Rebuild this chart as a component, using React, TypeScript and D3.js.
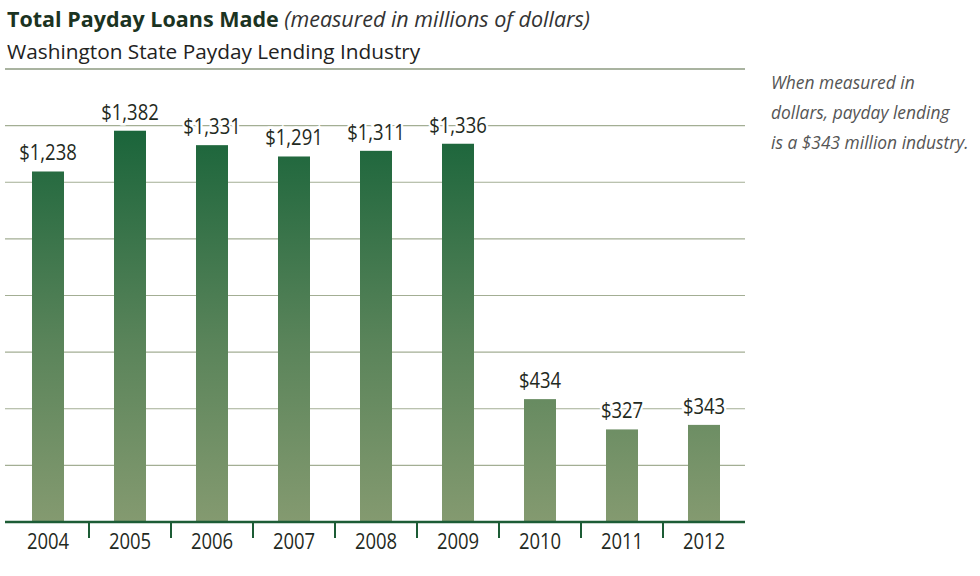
import React, { useEffect, useRef } from "react";
import * as d3 from "d3";

const years = ["2004", "2005", "2006", "2007", "2008", "2009", "2010", "2011", "2012"];
const loans = [1238, 1382, 1331, 1291, 1311, 1336, 434, 327, 343];
const gridTicks = [200, 400, 600, 800, 1000, 1200, 1400, 1600];
const noteLines = [
  "When measured in",
  "dollars, payday lending",
  "is a $343 million industry.",
];

const FONT = "'Open Sans', 'Liberation Sans', sans-serif";

const App: React.FC = () => {
  const ref = useRef<SVGSVGElement>(null);

  useEffect(() => {
    const svg = d3.select(ref.current);
    svg.selectAll("*").remove();

    const width = 980;
    const height = 576;
    const left = 7;
    const right = 745;
    const baseY = 522;
    const squeeze = 0.88; // condensed look

    svg.attr("width", width).attr("height", height);

    const x = d3.scaleBand().domain(years).range([left, right]).padding(0);
    const y = d3.scaleLinear().domain([0, 1600]).range([baseY, 69]);

    const defs = svg.append("defs");
    const grad = defs
      .append("linearGradient")
      .attr("id", "barGrad")
      .attr("gradientUnits", "userSpaceOnUse")
      .attr("x1", 0)
      .attr("x2", 0)
      .attr("y1", y(1400))
      .attr("y2", baseY);
    grad.append("stop").attr("offset", "0%").attr("stop-color", "#19643a");
    grad.append("stop").attr("offset", "55%").attr("stop-color", "#5a845a");
    grad.append("stop").attr("offset", "100%").attr("stop-color", "#849a70");

    // titles
    const title = svg
      .append("text")
      .attr("x", 7)
      .attr("y", 27)
      .attr("font-family", FONT)
      .attr("font-size", 21.5)
      .attr("fill", "#1b3322");
    title.append("tspan").attr("font-weight", "bold").text("Total Payday Loans Made ");
    title
      .append("tspan")
      .attr("font-style", "italic")
      .attr("fill", "#333")
      .text("(measured in millions of dollars)");

    svg
      .append("text")
      .attr("x", 7)
      .attr("y", 59)
      .attr("font-family", FONT)
      .attr("font-size", 20.8)
      .attr("fill", "#222")
      .text("Washington State Payday Lending Industry");

    // side note
    svg
      .append("g")
      .selectAll("text")
      .data(noteLines)
      .join("text")
      .attr("x", 771)
      .attr("y", (d, i) => 89 + i * 30)
      .attr("font-family", FONT)
      .attr("font-style", "italic")
      .attr("font-size", 17.4)
      .attr("fill", "#555")
      .text((d) => d);

    // gridlines
    svg
      .append("g")
      .selectAll("line")
      .data(gridTicks)
      .join("line")
      .attr("x1", 5)
      .attr("x2", right)
      .attr("y1", (d) => y(d))
      .attr("y2", (d) => y(d))
      .attr("stroke", (d) => (d === 1600 ? "#8c9a80" : "#a3ae94"))
      .attr("stroke-width", (d) => (d === 1600 ? 1.5 : 1.2));

    // bars
    const barW = 32;
    svg
      .append("g")
      .selectAll("rect")
      .data(loans)
      .join("rect")
      .attr("x", (d, i) => x(years[i])! + x.bandwidth() / 2 - barW / 2)
      .attr("y", (d) => y(d))
      .attr("width", barW)
      .attr("height", (d) => baseY - y(d))
      .attr("fill", "url(#barGrad)");

    // value labels
    svg
      .append("g")
      .selectAll("text")
      .data(loans)
      .join("text")
      .attr(
        "transform",
        (d, i) =>
          `translate(${x(years[i])! + x.bandwidth() / 2},${y(d) - 11}) scale(${squeeze},1)`
      )
      .attr("text-anchor", "middle")
      .attr("font-family", FONT)
      .attr("font-size", 21)
      .attr("fill", "#1f2a22")
      .attr("stroke", "white")
      .attr("stroke-width", 5)
      .attr("paint-order", "stroke")
      .text((d) => "$" + d3.format(",")(d));

    // baseline
    svg
      .append("line")
      .attr("x1", 5)
      .attr("x2", right)
      .attr("y1", baseY)
      .attr("y2", baseY)
      .attr("stroke", "#1c5c35")
      .attr("stroke-width", 2.5);

    // tick marks between categories
    svg
      .append("g")
      .selectAll("line")
      .data(years.slice(1))
      .join("line")
      .attr("x1", (d) => x(d)!)
      .attr("x2", (d) => x(d)!)
      .attr("y1", baseY)
      .attr("y2", baseY + 16)
      .attr("stroke", "#1c5c35")
      .attr("stroke-width", 2);

    // year labels
    svg
      .append("g")
      .selectAll("text")
      .data(years)
      .join("text")
      .attr(
        "transform",
        (d) => `translate(${x(d)! + x.bandwidth() / 2},549) scale(${squeeze},1)`
      )
      .attr("text-anchor", "middle")
      .attr("font-family", FONT)
      .attr("font-size", 21)
      .attr("fill", "#1f2a22")
      .text((d) => d);
  }, []);

  return (
    <svg
      ref={ref}
      style={{ position: "absolute", left: 0, top: 0, background: "white" }}
    ></svg>
  );
};

export default App;
